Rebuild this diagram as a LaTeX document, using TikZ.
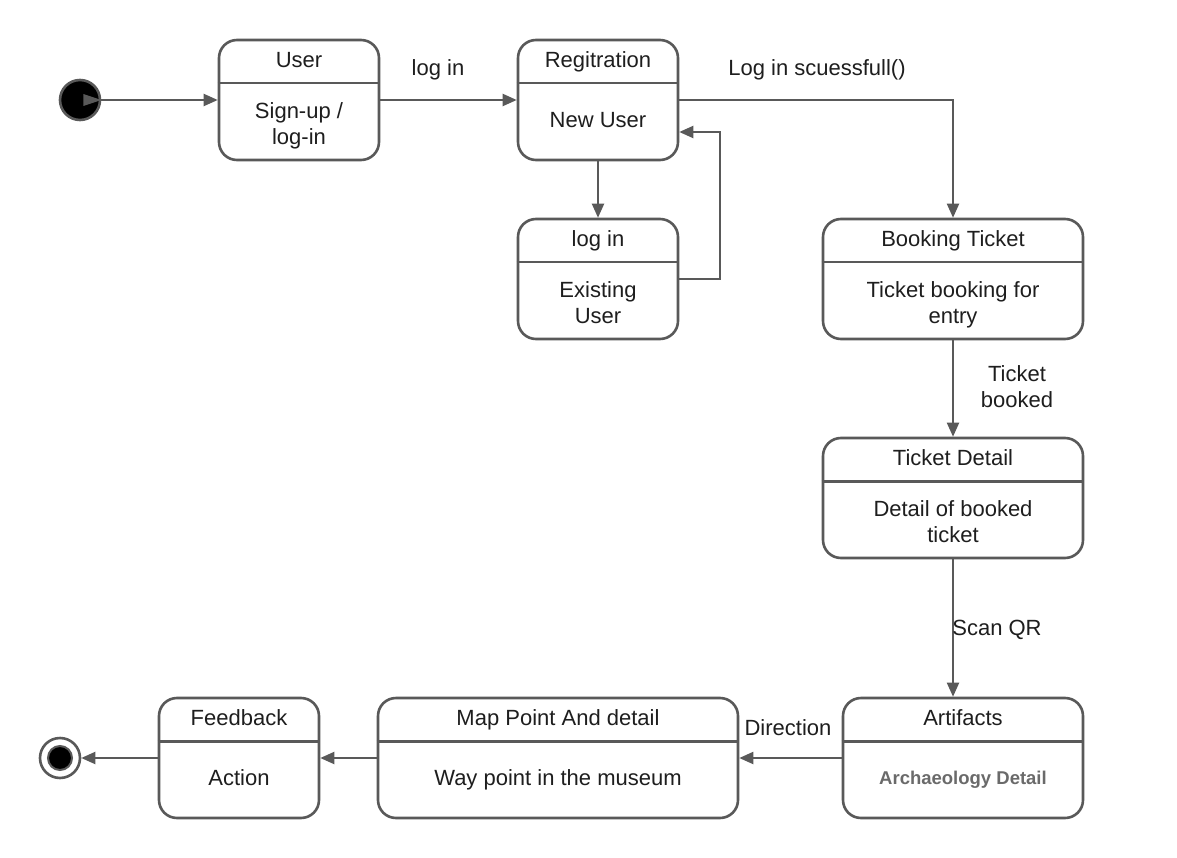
\documentclass[tikz,border=0pt]{standalone}
\usepackage{fontspec}
\setmainfont{Liberation Sans}
\usetikzlibrary{arrows.meta,calc}
\definecolor{linegray}{HTML}{595959}
\definecolor{txt}{HTML}{1E1E1E}
\definecolor{subtxt}{HTML}{6A6A6A}
\newcommand\sst{\rule[-4.75pt]{0pt}{25.25pt}}
\tikzset{
  stline/.style={draw=linegray,line width=2.6pt},
  statebox/.style={stline,rectangle,rounded corners=18pt,minimum height=120pt,inner sep=0pt,fill=white},
  titletext/.style={text=txt,font=\fontsize{22}{26}\selectfont,inner sep=0pt,text height=20.5pt,text depth=4.75pt},
  bodytext/.style={text=txt,font=\fontsize{22}{26}\selectfont,inner sep=0pt,align=center},
  lbl/.style={text=txt,font=\fontsize{22}{26}\selectfont,inner sep=0pt,align=center},
  arr/.style={draw=linegray,line width=2pt,-{Triangle[length=14pt,width=12pt]}},
}
% name, cx, cy, width, title, body, body offset
\newcommand\umlstate[7]{%
  \node[statebox,minimum width=#4] (#1) at (#2,#3) {};
  \draw[stline] ([yshift=-44.5pt]#1.north west) -- ([yshift=-44.5pt]#1.north east);
  \node[titletext] (#1-t) at (#2,#3-40.5) {#5};
  \node[bodytext] (#1-b) at (#2,#3+#7) {#6};
}
\begin{document}
\begin{tikzpicture}[x=1pt,y=-1pt]
\useasboundingbox[fill=white] (0,0) rectangle (1177,858);

% initial and final states
\node[circle,fill=black,draw=linegray,line width=2.6pt,minimum size=40pt,inner sep=0pt] (start) at (80,100) {};
\fill[linegray] (start.east) -- ++(-18,-6) -- ++(0,12) -- cycle;
\node[circle,fill=white,draw=linegray,line width=2.6pt,minimum size=40pt,inner sep=0pt] (end) at (60,758) {};
\node[circle,fill=black,draw=linegray,line width=2pt,minimum size=24pt,inner sep=0pt] (endin) at (60,758) {};

% states
\umlstate{user}{299}{100}{160pt}{User}{\sst Sign-up /\\\sst log-in}{23.5}
\umlstate{reg}{598}{100}{160pt}{Regitration}{\sst New User}{19.5}
\umlstate{login}{598}{279}{160pt}{log in}{\sst Existing\\\sst User}{23.5}
\umlstate{book}{953}{279}{260pt}{Booking Ticket}{\sst Ticket booking for\\\sst entry}{23.5}
\umlstate{det}{953}{498}{260pt}{Ticket Detail}{\sst Detail of booked\\\sst ticket}{23.5}
\umlstate{art}{963}{758}{240pt}{Artifacts}{{\color{subtxt}\bfseries\fontsize{18.5}{22}\selectfont\rule[-4pt]{0pt}{21pt}Archaeology Detail}}{19.5}
\umlstate{map}{558}{758}{360pt}{Map Point And detail}{\sst Way point in the museum}{19.5}
\umlstate{feed}{239}{758}{160pt}{Feedback}{\sst Action}{19.5}

% connectors
\draw[arr] (start) -- (user);
\draw[arr] (user) -- (reg);
\draw[arr] (reg.east) -| (book.north);
\draw[arr] (reg.south) -- (login.north);
\draw[arr] (login.east) -- ++(41,0) |- ([yshift=-32pt]reg.east);
\draw[arr] (book.south) -- (det.north);
\draw[arr] (det.south) -- (det.south |- art.north);
\draw[arr] (art.west) -- (map.east);
\draw[arr] (map.west) -- (feed.east);
\draw[arr] (feed.west) -- (end);

% labels
\node[lbl] (l1) at (438,70) {log in};
\node[lbl] (l2) at (817,70) {Log in scuessfull()};
\node[lbl] (l3) at (1017,387) {\sst Ticket\\\sst booked};
\node[lbl] (l4) at (997,630) {Scan QR};
\node[lbl] (l5) at (788,728) {Direction};
\end{tikzpicture}
\end{document}
